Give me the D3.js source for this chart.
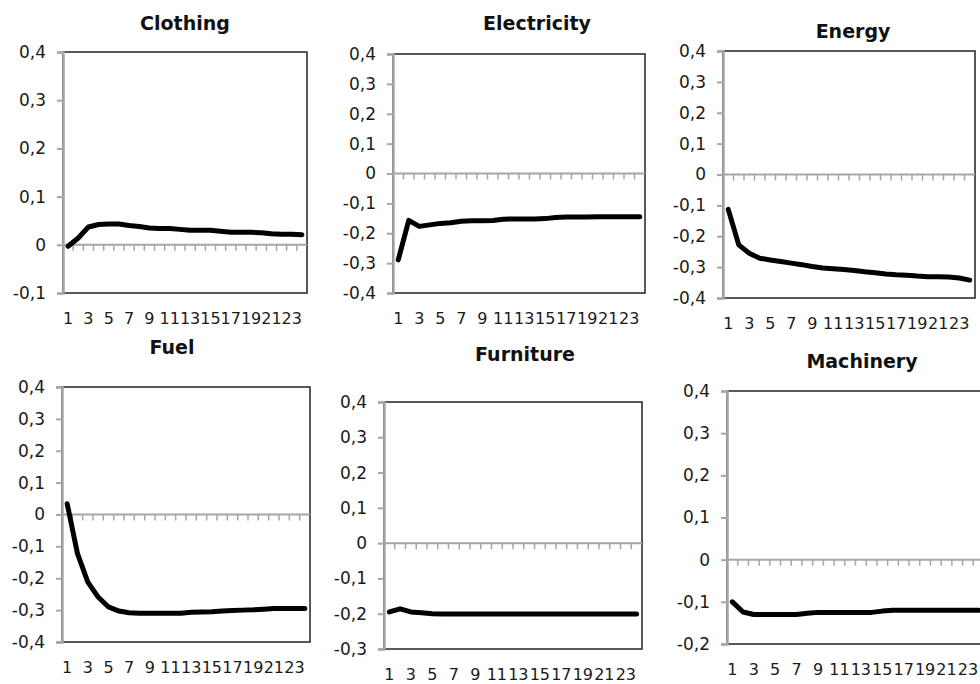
<!DOCTYPE html>
<html>
<head>
<meta charset="utf-8">
<script src="https://cdn.jsdelivr.net/npm/d3@7"></script>
<style>
  body { margin: 0; background: #fff; }
  text { font-family: "DejaVu Sans", Verdana, sans-serif; }
</style>
</head>
<body>
<script>
// categories (periods 1..24)
var periods = d3.range(1, 25);

// series values
var clothing    = [-0.003, 0.014, 0.037, 0.042, 0.043, 0.043, 0.040, 0.038, 0.035, 0.034, 0.034, 0.032,
                   0.030, 0.030, 0.030, 0.028, 0.026, 0.026, 0.026, 0.025, 0.023, 0.022, 0.022, 0.021];
var electricity = [-0.289, -0.157, -0.177, -0.172, -0.167, -0.165, -0.160, -0.158, -0.158, -0.157, -0.153, -0.152,
                   -0.152, -0.152, -0.151, -0.147, -0.146, -0.146, -0.146, -0.145, -0.145, -0.145, -0.145, -0.145];
var energy      = [-0.113, -0.228, -0.255, -0.271, -0.277, -0.282, -0.287, -0.292, -0.298, -0.303, -0.305, -0.308,
                   -0.311, -0.315, -0.318, -0.322, -0.325, -0.326, -0.329, -0.331, -0.331, -0.332, -0.335, -0.342];
var fuel        = [0.034, -0.123, -0.212, -0.259, -0.290, -0.303, -0.308, -0.310, -0.310, -0.310, -0.310, -0.310,
                   -0.307, -0.306, -0.305, -0.303, -0.301, -0.300, -0.299, -0.297, -0.295, -0.295, -0.295, -0.295];
var furniture   = [-0.195, -0.186, -0.195, -0.197, -0.200, -0.201, -0.201, -0.201, -0.201, -0.201, -0.201, -0.201,
                   -0.201, -0.201, -0.201, -0.201, -0.201, -0.201, -0.201, -0.201, -0.201, -0.201, -0.201, -0.201];
var machinery   = [-0.100, -0.124, -0.130, -0.130, -0.130, -0.130, -0.130, -0.127, -0.125, -0.125, -0.125, -0.125,
                   -0.125, -0.125, -0.122, -0.120, -0.120, -0.120, -0.120, -0.120, -0.120, -0.120, -0.120, -0.120];

var titles = ["Clothing", "Electricity", "Energy", "Fuel", "Furniture", "Machinery"];
var seriesList = [clothing, electricity, energy, fuel, furniture, machinery];

// y axis ranges for each panel
var yMins = [-0.1, -0.4, -0.4, -0.4, -0.3, -0.2];
var yMax = 0.4;

// plot boxes (left, right, top, bottom) and title positions
var boxes = [
  {l: 63,  r: 307, t: 52,  b: 293, tx: 185, ty: 24},
  {l: 393, r: 645, t: 54,  b: 293, tx: 537, ty: 24},
  {l: 723, r: 975, t: 51,  b: 298, tx: 853, ty: 32},
  {l: 62,  r: 310, t: 387, b: 642, tx: 172, ty: 348},
  {l: 384, r: 642, t: 402, b: 649, tx: 525, ty: 355},
  {l: 727, r: 984, t: 391, b: 644, tx: 862, ty: 362}
];

var W = 980, H = 684;
var svg = d3.select("body").append("svg")
    .attr("width", W)
    .attr("height", H);

var loc = d3.formatLocale({decimal: ",", thousands: ".", grouping: [3], currency: ["", ""], minus: "-"});
var fmt = loc.format(".1f");

titles.forEach(function (title, i) {
  var b = boxes[i];
  var values = seriesList[i];

  var x = d3.scaleBand()
      .domain(periods)
      .range([b.l, b.r])
      .padding(0);

  var y = d3.scaleLinear()
      .domain([yMins[i], yMax])
      .range([b.b, b.t]);

  var g = svg.append("g");

  // plot area border
  g.append("rect")
      .attr("x", b.l)
      .attr("y", b.t)
      .attr("width", b.r - b.l)
      .attr("height", b.b - b.t)
      .attr("fill", "none")
      .attr("stroke", "#222")
      .attr("stroke-width", 1.5);

  // value axis
  var ticks = d3.range(Math.round(yMins[i] * 10), 5).map(function (k) { return k / 10; });
  var yAxis = g.append("g")
      .attr("transform", "translate(" + b.l + ",0)")
      .call(d3.axisLeft(y)
          .tickValues(ticks)
          .tickSize(6)
          .tickPadding(11)
          .tickFormat(function (d) { return Math.abs(d) < 1e-9 ? "0" : fmt(d); }));
  yAxis.select(".domain").attr("stroke", "#a6a6a6").attr("stroke-width", 2.5);
  yAxis.selectAll(".tick line").attr("stroke", "#a6a6a6").attr("stroke-width", 2);
  yAxis.selectAll(".tick text")
      .attr("fill", "#1a1a1a")
      .style("font-size", "17px");

  // category axis crossing at zero
  var y0 = y(0);
  g.append("line")
      .attr("x1", b.l)
      .attr("x2", b.r)
      .attr("y1", y0)
      .attr("y2", y0)
      .attr("stroke", "#a6a6a6")
      .attr("stroke-width", 2);

  g.selectAll(".ctick")
      .data(periods.slice(1))
      .enter().append("line")
      .attr("class", "ctick")
      .attr("x1", function (d) { return x(d); })
      .attr("x2", function (d) { return x(d); })
      .attr("y1", y0)
      .attr("y2", y0 + 6)
      .attr("stroke", "#a6a6a6")
      .attr("stroke-width", 1.5);

  // category labels under the plot (odd periods only)
  g.selectAll(".clabel")
      .data(periods.filter(function (d) { return d % 2 === 1; }))
      .enter().append("text")
      .attr("class", "clabel")
      .attr("x", function (d) { return x(d) + x.bandwidth() / 2; })
      .attr("y", b.b + 26)
      .attr("text-anchor", "middle")
      .attr("dominant-baseline", "middle")
      .attr("fill", "#1a1a1a")
      .style("font-size", "16px")
      .text(function (d) { return d; });

  // the response line
  var line = d3.line()
      .x(function (d, k) { return x(periods[k]) + x.bandwidth() / 2; })
      .y(function (d) { return y(d); });

  g.append("path")
      .datum(values)
      .attr("fill", "none")
      .attr("stroke", "#000")
      .attr("stroke-width", 5)
      .attr("stroke-linejoin", "round")
      .attr("stroke-linecap", "round")
      .attr("d", line);

  // title
  g.append("text")
      .attr("x", b.tx)
      .attr("y", b.ty)
      .attr("text-anchor", "middle")
      .attr("dominant-baseline", "middle")
      .attr("fill", "#111")
      .style("font-size", "19px")
      .style("font-weight", "bold")
      .text(title);
});
</script>
</body>
</html>
